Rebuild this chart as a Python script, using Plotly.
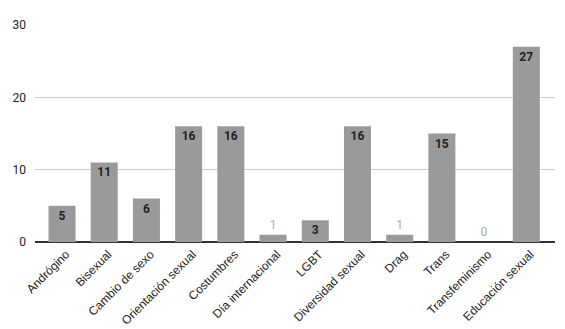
import plotly.graph_objects as go

categories = ["Andrógino", "Bisexual", "Cambio de sexo", "Orientación sexual", "Costumbres",
              "Día internacional", "LGBT", "Diversidad sexual", "Drag", "Trans",
              "Transfeminismo", "Educación sexual"]
values = [5, 11, 6, 16, 16, 1, 3, 16, 1, 15, 0, 27]
y_ticks = [0, 10, 20, 30]

positions = ["inside" if v >= 3 else "outside" for v in values]
text_colors = ["#222222" if v >= 3 else "#aaaaaa" for v in values]
text_weights = ["bold" if v >= 3 else "normal" for v in values]

fig = go.Figure(go.Bar(
    x=categories, y=values,
    marker=dict(color="#9a9a9a", line=dict(width=0)),
    width=0.64,
    text=[str(v) for v in values],
    textposition=positions,
    insidetextanchor="end",
    textfont=dict(color=text_colors, size=12, family="Roboto, Arial, sans-serif",
                  weight=text_weights),
    constraintext="none",
    cliponaxis=False,
))

fig.update_layout(
    width=557, height=321,
    margin=dict(l=27, r=10, t=17, b=87, autoexpand=False),
    paper_bgcolor="white", plot_bgcolor="white",
    showlegend=False,
    xaxis=dict(tickangle=-45, tickfont=dict(size=12, color="#222", family="Arial, Liberation Sans, sans-serif"),
               range=[-0.64, 11.68], showgrid=False, ticks="", showline=False, automargin=False,
               ticklabelshift=4, ticklabelstandoff=2),
    yaxis=dict(range=[0, 30], tickvals=y_ticks, showgrid=True, gridcolor="#cccccc", gridwidth=1,
               zeroline=True, zerolinecolor="#333333", zerolinewidth=1.5,
               tickfont=dict(size=12, color="#222", family="Roboto, Arial, sans-serif"),
               ticklabelstandoff=8, automargin=False),
)

fig.write_html("out.html")
